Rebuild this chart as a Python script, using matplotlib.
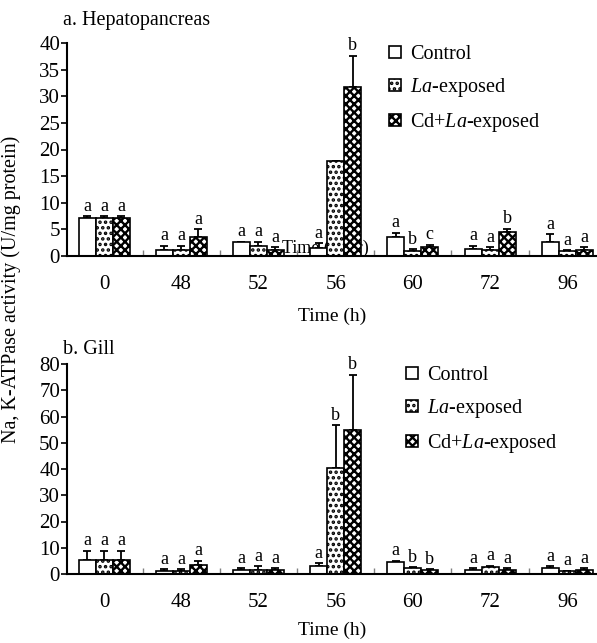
import matplotlib
matplotlib.use("Agg")
import matplotlib.pyplot as plt
import numpy as np
from matplotlib.patches import Patch

plt.rcParams['font.family'] = ['Liberation Serif', 'DejaVu Serif']
plt.rcParams['mathtext.fontset'] = 'custom'
plt.rcParams['mathtext.rm'] = 'Liberation Serif'
plt.rcParams['mathtext.it'] = 'Liberation Serif:italic'
plt.rcParams['hatch.linewidth'] = 1.7

times = ["0", "48", "52", "56", "60", "72", "96"]
series = ["Control", r"$\mathit{La}$-exposed", r"Cd+$\mathit{La}$-exposed"]

# a. hepatopancreas
hep_ctrl = [7.2, 1.2, 2.6, 1.5, 3.6, 1.4, 2.6]
hep_la = [7.2, 1.2, 1.9, 17.8, 1.0, 1.2, 1.0]
hep_cdla = [7.2, 3.5, 1.2, 31.8, 1.6, 4.6, 1.2]
hep_ctrl_err = [0.3, 0.7, 0.1, 0.9, 0.8, 0.5, 1.5]
hep_la_err = [0.3, 0.7, 0.8, 0.0, 0.3, 0.5, 0.1]
hep_cdla_err = [0.3, 1.5, 0.4, 5.8, 0.5, 0.5, 0.4]
hep_ctrl_lab = ["a", "a", "a", "a", "a", "a", "a"]
hep_la_lab = ["a", "a", "a", "", "b", "a", "a"]
hep_cdla_lab = ["a", "a", "a", "b", "c", "b", "a"]

# b. gill
gill_ctrl = [5.3, 1.3, 1.5, 2.9, 4.4, 1.6, 2.1]
gill_la = [5.3, 1.3, 1.6, 40.2, 2.1, 2.5, 1.0]
gill_cdla = [5.3, 3.5, 1.5, 54.9, 1.5, 1.6, 1.6]
gill_ctrl_err = [3.6, 0.6, 0.7, 1.3, 0.6, 0.5, 0.8]
gill_la_err = [3.6, 0.6, 1.3, 16.6, 0.4, 0.7, 0.2]
gill_cdla_err = [3.6, 1.6, 0.7, 21.1, 0.3, 0.5, 0.5]
gill_ctrl_lab = ["a", "a", "a", "a", "a", "a", "a"]
gill_la_lab = ["a", "a", "a", "b", "b", "a", "a"]
gill_cdla_lab = ["a", "a", "a", "b", "b", "a", "a"]

hatches = [None, "...", "xxxx"]
W, H = 597, 643
fig = plt.figure(figsize=(W / 100, H / 100), dpi=100)

ax1 = fig.add_axes([67 / W, 1 - 256 / H, (W - 67) / W, 213 / H])
ax2 = fig.add_axes([67 / W, 1 - 574 / H, (W - 67) / W, 210 / H])

x = np.arange(len(times))
w = 0.22


def panel(ax, vals, errs, labs, ymax, ystep):
    for i, (v, e, lb) in enumerate(zip(vals, errs, labs)):
        pos = x + (i - 1) * w
        ax.bar(pos, v, w, color="white", edgecolor="black", linewidth=1.2,
               hatch=hatches[i], zorder=3,
               yerr=[np.zeros(len(e)), e], capsize=3,
               error_kw=dict(elinewidth=1.3, capthick=1.3, ecolor="black", zorder=2))
        for xp, vv, ee, t in zip(pos, v, e, lb):
            ax.annotate(t, (xp, vv + ee), xytext=(0, 1), textcoords="offset points",
                        ha="center", va="bottom", fontsize=13, zorder=4)
    ax.set_xlim(-0.48, -0.48 + (W - 67) / 77.2)
    ax.set_ylim(0, ymax)
    ax.set_yticks(np.arange(0, ymax + 1, ystep))
    ax.set_xticks(x)
    ax.set_xticklabels(times)
    ax.set_xticks(x[:-1] + 0.5, minor=True)
    ax.tick_params(axis="x", which="major", length=0, pad=14, labelsize=15)
    ax.tick_params(axis="x", which="minor", direction="in", length=4, width=1, color="gray")
    ax.tick_params(axis="y", direction="out", length=4, width=1.2, labelsize=15, pad=1)
    for s in ["top", "right"]:
        ax.spines[s].set_visible(False)
    ax.spines["left"].set_linewidth(1.5)
    ax.spines["bottom"].set_linewidth(1.5)
    ax.spines["bottom"].set_zorder(5)


panel(ax1, [hep_ctrl, hep_la, hep_cdla], [hep_ctrl_err, hep_la_err, hep_cdla_err],
      [hep_ctrl_lab, hep_la_lab, hep_cdla_lab], 40, 5)
panel(ax2, [gill_ctrl, gill_la, gill_cdla], [gill_ctrl_err, gill_la_err, gill_cdla_err],
      [gill_ctrl_lab, gill_la_lab, gill_cdla_lab], 80, 10)

# stray label left behind the 56 h bars in the top panel
ax1.text(2.306, -0.1, "Time (hour)", fontsize=13, ha="left", va="bottom", zorder=1)

handles = [Patch(facecolor="white", edgecolor="black", linewidth=1.2, hatch=h) for h in hatches]
for ax, bx, by in [(ax1, 389, 45), (ax2, 406, 366)]:
    ax.legend(handles, series, loc="upper left", bbox_to_anchor=(bx / W, 1 - by / H),
              bbox_transform=fig.transFigure, frameon=False, fontsize=14.5,
              handlelength=0.6, handleheight=0.6, handletextpad=0.45,
              labelspacing=0.6, borderpad=0, borderaxespad=0)

fig.text(63 / W, 1 - 20 / H, "a. Hepatopancreas", fontsize=14.5, ha="left", va="center")
fig.text(63 / W, 1 - 350 / H, "b. Gill", fontsize=14.5, ha="left", va="center")
fig.text(332 / W, 1 - 316 / H, "Time (h)", fontsize=14, ha="center", va="center")
fig.text(332 / W, 1 - 630 / H, "Time (h)", fontsize=14, ha="center", va="center")
fig.text(11 / W, 1 - 289 / H, "Na, K-ATPase activity (U/mg protein)", fontsize=14.5,
         rotation=90, ha="center", va="center")

fig.savefig("out.png", dpi=100)
